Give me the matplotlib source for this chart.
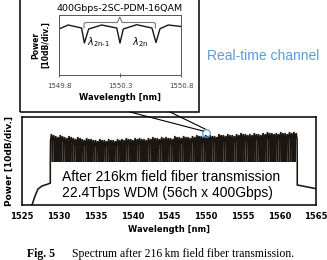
#!/usr/bin/env python3
"""
plot.py
WDM spectrum after 216 km field fiber transmission, with inset of one channel.
Usage: python plot.py  ->  out.png
"""
import numpy as np
import matplotlib
matplotlib.use("Agg")
import matplotlib.pyplot as plt
from matplotlib.lines import Line2D
from matplotlib.patches import Rectangle

W, H = 327, 260
LINE = "#1c1612"
BLUE = "#5b9bd5"

# ---- main spectrum (power in arbitrary dB units, 10 dB/div) ----
floor_left_wl = [1526.0, 1526.36, 1526.77, 1527.18, 1527.72, 1528.54, 1528.85]
floor_left_pw = [-5, 0, 9, 16, 19, 21, 22]
floor_right_wl = [1562.45, 1565.6]
floor_right_pw = [20, 15.5]

ch_center = [1529.15, 1529.75, 1530.35, 1530.95, 1531.55, 1532.15, 1532.75,
             1533.35, 1533.95, 1534.55, 1535.15, 1535.75, 1536.35, 1536.95,
             1537.55, 1538.15, 1538.75, 1539.35, 1539.95, 1540.55, 1541.15,
             1541.75, 1542.35, 1542.95, 1543.55, 1544.15, 1544.75, 1545.35,
             1545.95, 1546.55, 1547.15, 1547.75, 1548.35, 1548.95, 1549.55,
             1550.15, 1550.75, 1551.35, 1551.95, 1552.55, 1553.15, 1553.75,
             1554.35, 1554.95, 1555.55, 1556.15, 1556.75, 1557.35, 1557.95,
             1558.55, 1559.15, 1559.75, 1560.35, 1560.95, 1561.55, 1562.15]
ch_peak = [71, 69, 70, 68, 69, 67, 68, 66, 67, 66, 65, 66, 65, 66,
           65, 66, 66, 67, 66, 67, 67, 66, 67, 68, 67, 68, 68, 67,
           69, 68, 69, 68, 69, 70, 69, 70, 70, 69, 71, 70, 71, 70,
           71, 72, 71, 71, 72, 71, 72, 73, 72, 72, 73, 72, 73, 73]
ch_dip = 43

# one channel = 2 subcarriers, offsets (nm) from channel centre and drop below peak
sc_offset = [-0.30, -0.27, -0.15, -0.03, 0.0, 0.03, 0.15, 0.27, 0.30]
sc_drop = [None, 7, 0, 7, None, 7, 1, 7, None]

# ---- inset: one 400G channel (2 subcarriers) ----
ins_wl = [1549.80, 1549.875, 1549.985, 1550.008, 1550.043, 1550.150, 1550.273,
          1550.300, 1550.327, 1550.436, 1550.562, 1550.595, 1550.628, 1550.696, 1550.80]
ins_pw = [46, 50, 47, 32, 46, 50, 47, 32, 46, 50.3, 47, 32.5, 46.3, 50, 48.5]
ins_ticks = [1549.8, 1550.3, 1550.8]


def fx(px):
    return px / W


def fy(py):
    return 1 - py / H


def build_main():
    wl = list(floor_left_wl)
    pw = list(floor_left_pw)
    for c, p in zip(ch_center, ch_peak):
        for o, d in zip(sc_offset, sc_drop):
            wl.append(c + o)
            pw.append(ch_dip if d is None else p - d)
    wl += floor_right_wl
    pw += floor_right_pw
    return np.array(wl), np.array(pw)


def main():
    plt.rcParams["font.family"] = ["DejaVu Sans"]
    fig = plt.figure(figsize=(W / 100, H / 100), dpi=100)

    # main axes
    ax = fig.add_axes([fx(22), fy(205), fx(316) - fx(22), fy(117) - fy(205)])
    wl, pw = build_main()
    ax.plot(wl, pw, color=LINE, lw=1.15, solid_joinstyle="miter")
    ax.set_xlim(1525, 1565)
    ax.set_ylim(0, 88)
    ax.set_xticks(range(1525, 1566, 5))
    ax.set_yticks([])
    ax.tick_params(axis="x", length=0, pad=5, labelsize=6)
    for lab in ax.get_xticklabels():
        lab.set_fontweight("bold")
    for s in ax.spines.values():
        s.set_linewidth(1.1)
    ax.set_xlabel("Wavelength [nm]", fontsize=6, fontweight="bold", labelpad=3)
    ax.set_ylabel("Power [10dB/div.]", fontsize=6.5, fontweight="bold", labelpad=6)
    ax.text(1530.5, 20, "After 216km field fiber transmission\n22.4Tbps WDM (56ch x 400Gbps)",
            fontsize=10, family="Liberation Sans", va="center", ha="left", linespacing=1.1)
    ax.plot([1550.03], [72], "o", ms=5.5, mfc="none", mec=BLUE, mew=0.9, zorder=5)

    # outer inset frame and callout
    fig.add_artist(Rectangle((fx(20), fy(112)), fx(199) - fx(20), fy(-5) - fy(112),
                             fill=False, ec="black", lw=1.1, transform=fig.transFigure))
    fig.add_artist(Line2D([fx(130), fx(203)], [fy(112), fy(131)], color="black", lw=0.8))
    fig.add_artist(Line2D([fx(170), fx(205)], [fy(112), fy(129)], color="black", lw=0.8))

    # inset axes
    ins = fig.add_axes([fx(59), fy(75), fx(181) - fx(59), fy(15) - fy(75)])
    ins.plot(ins_wl, ins_pw, color=LINE, lw=1.0)
    ins.set_xlim(1549.8, 1550.8)
    ins.set_ylim(0, 60)
    ins.set_xticks(ins_ticks)
    ins.set_xticklabels(["1549.8", "1550.3", "1550.8"])
    ins.set_yticks([])
    ins.tick_params(axis="x", direction="inout", length=3, width=0.6, pad=4,
                    labelsize=5, colors="#444444")
    for s in ins.spines.values():
        s.set_linewidth(0.7)
        s.set_color("#555555")
    ins.set_xlabel("Wavelength [nm]", fontsize=6, fontweight="bold", labelpad=3)
    ins.set_ylabel("Power\n[10dB/div.]", fontsize=5.5, fontweight="bold", labelpad=6)
    ins.set_title("400Gbps-2SC-PDM-16QAM", fontsize=6.8, pad=3)

    # curly bracket over the two subcarriers
    x0, x1, xm = 1550.005, 1550.59, 1550.298
    bx = [x0, x0, x0 + 0.015, xm - 0.02, xm, xm + 0.02, x1 - 0.015, x1, x1]
    by = [47, 51.5, 52.5, 52.5, 58, 52.5, 52.5, 51.5, 47]
    ins.plot(bx, by, color="#777777", lw=0.8, clip_on=False)
    ins.text(1550.125, 33, r"$\lambda_{\mathrm{2n\text{-}1}}$", fontsize=7, ha="center", va="center")
    ins.text(1550.465, 33, r"$\lambda_{\mathrm{2n}}$", fontsize=7, ha="center", va="center")

    fig.text(fx(207), fy(56), "Real-time channel", color=BLUE, fontsize=10,
             family="Liberation Sans", va="center", ha="left")

    fig.text(fx(27), fy(254), "Fig. 5", family="Liberation Serif", fontweight="bold",
             fontsize=8.5, va="center", ha="left")
    fig.text(fx(72), fy(254), "Spectrum after 216\u2009km field fiber transmission.",
             family="Liberation Serif", fontsize=8.5, va="center", ha="left")

    fig.savefig("out.png", dpi=100)


if __name__ == "__main__":
    main()
